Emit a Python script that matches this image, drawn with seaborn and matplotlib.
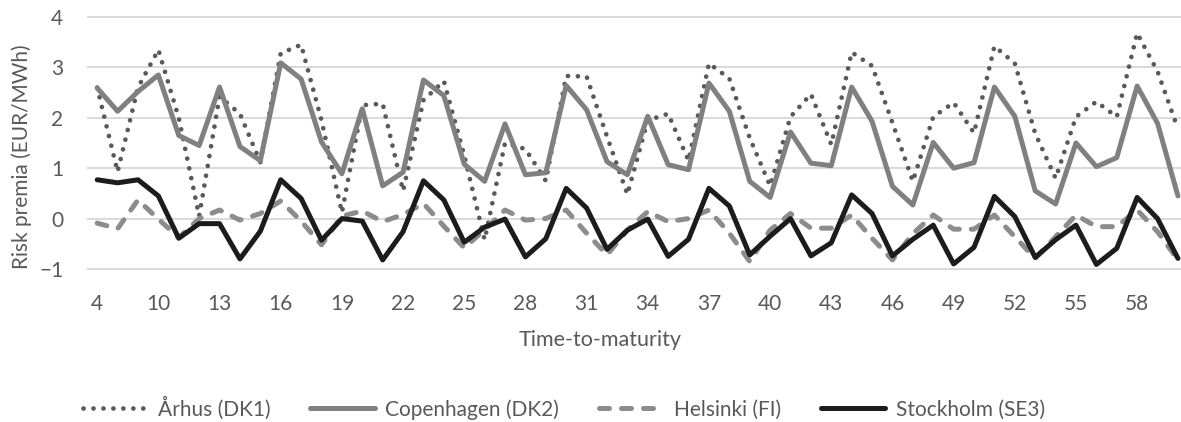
import pandas as pd
import seaborn as sns
import matplotlib.pyplot as plt

# time-to-maturity categories (only every third one is labelled on the axis)
maturity = [4, 8, 9] + list(range(10, 61))

aarhus = [2.60, 0.93, 2.60, 3.35, 2.00, 0.05, 2.42, 2.08, 1.12, 3.28,
          3.45, 1.95, 0.12, 2.25, 2.28, 0.55, 2.35, 2.73, 1.25, -0.42,
          1.50, 1.38, 0.75, 2.83, 2.82, 1.63, 0.48, 1.95, 2.08, 1.15,
          3.08, 2.78, 1.60, 0.65, 2.02, 2.47, 1.47, 3.30, 3.03, 1.90,
          0.74, 2.02, 2.30, 1.70, 3.42, 3.08, 1.69, 0.80, 2.02, 2.32,
          2.02, 3.68, 2.92, 1.78]
copenhagen = [2.59, 2.13, 2.52, 2.85, 1.65, 1.45, 2.61, 1.43, 1.15, 3.09,
              2.77, 1.52, 0.89, 2.18, 0.65, 0.92, 2.75, 2.44, 1.08, 0.74,
              1.88, 0.87, 0.91, 2.64, 2.16, 1.13, 0.87, 2.03, 1.07, 0.97,
              2.69, 2.13, 0.74, 0.42, 1.72, 1.10, 1.05, 2.61, 1.93, 0.64,
              0.27, 1.51, 1.00, 1.11, 2.61, 2.03, 0.55, 0.29, 1.50, 1.03,
              1.21, 2.63, 1.89, 0.45]
helsinki = [-0.09, -0.20, 0.37, -0.01, -0.38, 0.00, 0.17, -0.03, 0.10, 0.35,
            -0.05, -0.52, 0.05, 0.15, -0.06, 0.08, 0.30, -0.15, -0.58, -0.22,
            0.17, -0.03, 0.00, 0.17, -0.29, -0.72, -0.23, 0.14, -0.06, 0.00,
            0.17, -0.29, -0.85, -0.23, 0.10, -0.19, -0.19, 0.07, -0.39, -0.82,
            -0.30, 0.07, -0.21, -0.21, 0.07, -0.36, -0.79, -0.36, 0.07, -0.16,
            -0.16, 0.17, -0.26, -0.82]
stockholm = [0.77, 0.71, 0.77, 0.45, -0.39, -0.10, -0.10, -0.80, -0.25, 0.77,
             0.40, -0.43, 0.00, -0.05, -0.82, -0.26, 0.75, 0.37, -0.47, -0.17,
             -0.01, -0.76, -0.40, 0.60, 0.21, -0.61, -0.23, -0.01, -0.75, -0.41,
             0.60, 0.25, -0.72, -0.35, 0.00, -0.74, -0.48, 0.47, 0.10, -0.74,
             -0.41, -0.13, -0.90, -0.57, 0.44, 0.04, -0.77, -0.42, -0.13, -0.91,
             -0.59, 0.42, 0.00, -0.79]

names = ['Århus (DK1)', 'Copenhagen (DK2)', 'Helsinki (FI)', 'Stockholm (SE3)']
series = [aarhus, copenhagen, helsinki, stockholm]

rows = []
for name, vals in zip(names, series):
    for i, v in enumerate(vals):
        rows.append({'pos': i, 'maturity': maturity[i], 'region': name, 'value': v})
df = pd.DataFrame(rows)

sns.set_style('white')
plt.rcParams['font.family'] = ['Lato', 'DejaVu Sans']
txt = '#595959'

fig = plt.figure(figsize=(11.81, 4.22), dpi=100)
ax = fig.add_axes([87 / 1181, 1 - 270.5 / 422, 1094 / 1181, 255 / 422])

palette = {names[0]: '#595959', names[1]: '#808080', names[2]: '#8c8c8c', names[3]: '#1c1c1c'}
dashes = {names[0]: (0.01, 2.1), names[1]: '', names[2]: (2.0, 2.4), names[3]: ''}
sns.lineplot(data=df, x='pos', y='value', hue='region', style='region',
             palette=palette, dashes=dashes, lw=3.6, errorbar=None, ax=ax)

for ln in ax.lines[:4]:
    ln.set_dash_capstyle('round')
    ln.set_solid_capstyle('round')
    ln.set_solid_joinstyle('round')
ax.lines[0].set_linewidth(3.4)

ax.get_legend().remove()
fig.legend(ax.lines[:4], names, loc='center', bbox_to_anchor=(564 / 1181, 1 - 408 / 422),
           ncol=4, frameon=False, handlelength=3.1, columnspacing=1.9,
           handletextpad=0.5, prop={'size': 15}, labelcolor=txt,
           borderpad=0, borderaxespad=0)

ax.set_xlim(-0.5, 53.15)
ax.set_ylim(-1.03, 4.03)
ax.set_yticks([-1, 0, 1, 2, 3, 4])
ticks = list(range(0, len(maturity), 3))
ax.set_xticks(ticks)
ax.set_xticklabels([str(maturity[t]) for t in ticks])
ax.tick_params(axis='both', length=0, labelsize=15, labelcolor=txt)
ax.tick_params(axis='x', pad=17)
ax.tick_params(axis='y', pad=17)

ax.yaxis.grid(True, color='#d9d9d9', lw=1.4)
ax.xaxis.grid(False)
ax.set_axisbelow(True)
sns.despine(ax=ax, left=True, bottom=True)

ax.set_xlabel('')
ax.set_ylabel('')
fig.text(600 / 1181, 1 - 340 / 422, 'Time-to-maturity', ha='center', va='center',
         fontsize=15.5, color=txt)
fig.text(22 / 1181, 1 - 157 / 422, 'Risk premia (EUR/MWh)', ha='center', va='center',
         rotation=90, fontsize=15, color=txt)

fig.savefig('out.png', dpi=100)
